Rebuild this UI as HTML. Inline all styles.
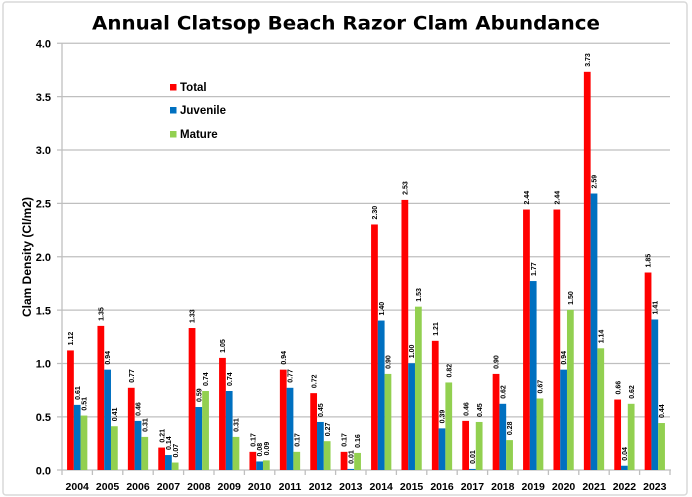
<!DOCTYPE html>
<html><head><meta charset="utf-8"><style>
html,body{margin:0;padding:0;background:#fff;}
svg{display:block;}
text{font-family:"Liberation Sans",Arial,sans-serif;font-weight:bold;fill:#000;}
.r{fill:#ff0000}.b{fill:#0070c0}.g{fill:#92d050}
.l{font-size:7px}
.yr{font-size:10.5px;text-anchor:middle}
.yt{font-size:11px;text-anchor:end}
</style></head><body>
<svg width="692" height="497" viewBox="0 0 692 497" xmlns="http://www.w3.org/2000/svg">
<rect x="3" y="2" width="684" height="493" rx="3" fill="#fff" stroke="#d9d9d9" stroke-width="1.5"/>
<text x="346" y="29.5" text-anchor="middle" style="font-family:'DejaVu Sans','Liberation Sans',sans-serif;font-size:18.5px" textLength="508" lengthAdjust="spacingAndGlyphs">Annual Clatsop Beach Razor Clam Abundance</text>
<g stroke="#bfbfbf" stroke-width="1.3">
<line x1="57" y1="43.25" x2="670" y2="43.25"/>
<line x1="57" y1="96.6" x2="670" y2="96.6"/>
<line x1="57" y1="150" x2="670" y2="150"/>
<line x1="57" y1="203.4" x2="670" y2="203.4"/>
<line x1="57" y1="256.75" x2="670" y2="256.75"/>
<line x1="57" y1="310.1" x2="670" y2="310.1"/>
<line x1="57" y1="363.5" x2="670" y2="363.5"/>
<line x1="57" y1="416.9" x2="670" y2="416.9"/>
<line x1="57" y1="470" x2="671" y2="470"/>
<line x1="62" y1="43" x2="62" y2="470"/>
<line x1="62" y1="470" x2="62" y2="475"/><line x1="92.4" y1="470" x2="92.4" y2="475"/><line x1="122.8" y1="470" x2="122.8" y2="475"/><line x1="153.2" y1="470" x2="153.2" y2="475"/><line x1="183.6" y1="470" x2="183.6" y2="475"/><line x1="214" y1="470" x2="214" y2="475"/><line x1="244.4" y1="470" x2="244.4" y2="475"/><line x1="274.8" y1="470" x2="274.8" y2="475"/><line x1="305.2" y1="470" x2="305.2" y2="475"/><line x1="335.6" y1="470" x2="335.6" y2="475"/><line x1="366" y1="470" x2="366" y2="475"/><line x1="396.4" y1="470" x2="396.4" y2="475"/><line x1="426.8" y1="470" x2="426.8" y2="475"/><line x1="457.2" y1="470" x2="457.2" y2="475"/><line x1="487.6" y1="470" x2="487.6" y2="475"/><line x1="518" y1="470" x2="518" y2="475"/><line x1="548.4" y1="470" x2="548.4" y2="475"/><line x1="578.8" y1="470" x2="578.8" y2="475"/><line x1="609.2" y1="470" x2="609.2" y2="475"/><line x1="639.6" y1="470" x2="639.6" y2="475"/><line x1="670" y1="470" x2="670" y2="475"/>
</g>
<g class="yt">
<text x="51" y="47.5">4.0</text>
<text x="51" y="100.8">3.5</text>
<text x="51" y="154.2">3.0</text>
<text x="51" y="207.6">2.5</text>
<text x="51" y="261">2.0</text>
<text x="51" y="314.3">1.5</text>
<text x="51" y="367.7">1.0</text>
<text x="51" y="421.1">0.5</text>
<text x="51" y="474.3">0.0</text>
</g>
<text transform="translate(31,257) rotate(-90)" text-anchor="middle" style="font-size:12px" textLength="120" lengthAdjust="spacingAndGlyphs">Clam Density (Cl/m2)</text>
<rect x="170" y="84" width="6.5" height="6.5" class="r"/><text x="180" y="91" style="font-size:11.5px">Total</text>
<rect x="170" y="107" width="6.5" height="6.5" class="b"/><text x="180" y="114" style="font-size:11.5px">Juvenile</text>
<rect x="170" y="131" width="6.5" height="6.5" class="g"/><text x="180" y="138" style="font-size:11.5px">Mature</text>

<g class="yr">
<text x="77.2" y="490">2004</text><text x="107.6" y="490">2005</text><text x="138" y="490">2006</text><text x="168.4" y="490">2007</text><text x="198.8" y="490">2008</text><text x="229.2" y="490">2009</text><text x="259.6" y="490">2010</text><text x="290" y="490">2011</text><text x="320.4" y="490">2012</text><text x="350.8" y="490">2013</text><text x="381.2" y="490">2014</text><text x="411.6" y="490">2015</text><text x="442" y="490">2016</text><text x="472.4" y="490">2017</text><text x="502.8" y="490">2018</text><text x="533.2" y="490">2019</text><text x="563.6" y="490">2020</text><text x="594" y="490">2021</text><text x="624.4" y="490">2022</text><text x="654.8" y="490">2023</text>
</g>

<g transform="translate(62,0)">
<rect class="r" x="5.07" y="350.44" width="6.76" height="119.56"/><rect class="b" x="11.82" y="404.88" width="6.76" height="65.12"/><rect class="g" x="18.58" y="415.56" width="6.76" height="54.44"/>
<text class="l" transform="translate(11.1,345.4) rotate(-90)">1.12</text><text class="l" transform="translate(17.8,399.9) rotate(-90)">0.61</text><text class="l" transform="translate(24.6,410.6) rotate(-90)">0.51</text>
</g>
<g transform="translate(92.4,0)">
<rect class="r" x="5.07" y="325.89" width="6.76" height="144.11"/><rect class="b" x="11.82" y="369.65" width="6.76" height="100.35"/><rect class="g" x="18.58" y="426.23" width="6.76" height="43.77"/>
<text class="l" transform="translate(11.1,320.9) rotate(-90)">1.35</text><text class="l" transform="translate(17.8,364.6) rotate(-90)">0.94</text><text class="l" transform="translate(24.6,421.2) rotate(-90)">0.41</text>
</g>
<g transform="translate(122.8,0)">
<rect class="r" x="5.07" y="387.80" width="6.76" height="82.20"/><rect class="b" x="11.82" y="420.89" width="6.76" height="49.11"/><rect class="g" x="18.58" y="436.91" width="6.76" height="33.09"/>
<text class="l" transform="translate(11.1,382.8) rotate(-90)">0.77</text><text class="l" transform="translate(17.8,415.9) rotate(-90)">0.46</text><text class="l" transform="translate(24.6,431.9) rotate(-90)">0.31</text>
</g>
<g transform="translate(153.2,0)">
<rect class="r" x="5.07" y="447.58" width="6.76" height="22.42"/><rect class="b" x="11.82" y="455.05" width="6.76" height="14.95"/><rect class="g" x="18.58" y="462.53" width="6.76" height="7.47"/>
<text class="l" transform="translate(11.1,442.6) rotate(-90)">0.21</text><text class="l" transform="translate(17.8,450) rotate(-90)">0.14</text><text class="l" transform="translate(24.6,457.5) rotate(-90)">0.07</text>
</g>
<g transform="translate(183.6,0)">
<rect class="r" x="5.07" y="328.02" width="6.76" height="141.98"/><rect class="b" x="11.82" y="407.02" width="6.76" height="62.98"/><rect class="g" x="18.58" y="391.00" width="6.76" height="79.00"/>
<text class="l" transform="translate(11.1,323) rotate(-90)">1.33</text><text class="l" transform="translate(17.8,402) rotate(-90)">0.59</text><text class="l" transform="translate(24.6,386) rotate(-90)">0.74</text>
</g>
<g transform="translate(214,0)">
<rect class="r" x="5.07" y="357.91" width="6.76" height="112.09"/><rect class="b" x="11.82" y="391.00" width="6.76" height="79.00"/><rect class="g" x="18.58" y="436.91" width="6.76" height="33.09"/>
<text class="l" transform="translate(11.1,352.9) rotate(-90)">1.05</text><text class="l" transform="translate(17.8,386) rotate(-90)">0.74</text><text class="l" transform="translate(24.6,431.9) rotate(-90)">0.31</text>
</g>
<g transform="translate(244.4,0)">
<rect class="r" x="5.07" y="451.85" width="6.76" height="18.15"/><rect class="b" x="11.82" y="461.46" width="6.76" height="8.54"/><rect class="g" x="18.58" y="460.39" width="6.76" height="9.61"/>
<text class="l" transform="translate(11.1,446.8) rotate(-90)">0.17</text><text class="l" transform="translate(17.8,456.5) rotate(-90)">0.08</text><text class="l" transform="translate(24.6,455.4) rotate(-90)">0.09</text>
</g>
<g transform="translate(274.8,0)">
<rect class="r" x="5.07" y="369.65" width="6.76" height="100.35"/><rect class="b" x="11.82" y="387.80" width="6.76" height="82.20"/><rect class="g" x="18.58" y="451.85" width="6.76" height="18.15"/>
<text class="l" transform="translate(11.1,364.6) rotate(-90)">0.94</text><text class="l" transform="translate(17.8,382.8) rotate(-90)">0.77</text><text class="l" transform="translate(24.6,446.8) rotate(-90)">0.17</text>
</g>
<g transform="translate(305.2,0)">
<rect class="r" x="5.07" y="393.14" width="6.76" height="76.86"/><rect class="b" x="11.82" y="421.96" width="6.76" height="48.04"/><rect class="g" x="18.58" y="441.18" width="6.76" height="28.82"/>
<text class="l" transform="translate(11.1,388.1) rotate(-90)">0.72</text><text class="l" transform="translate(17.8,417) rotate(-90)">0.45</text><text class="l" transform="translate(24.6,436.2) rotate(-90)">0.27</text>
</g>
<g transform="translate(335.6,0)">
<rect class="r" x="5.07" y="451.85" width="6.76" height="18.15"/><rect class="b" x="11.82" y="468.93" width="6.76" height="1.07"/><rect class="g" x="18.58" y="452.92" width="6.76" height="17.08"/>
<text class="l" transform="translate(11.1,446.8) rotate(-90)">0.17</text><text class="l" transform="translate(17.8,463.9) rotate(-90)">0.01</text><text class="l" transform="translate(24.6,447.9) rotate(-90)">0.16</text>
</g>
<g transform="translate(366,0)">
<rect class="r" x="5.07" y="224.47" width="6.76" height="245.53"/><rect class="b" x="11.82" y="320.55" width="6.76" height="149.45"/><rect class="g" x="18.58" y="373.92" width="6.76" height="96.08"/>
<text class="l" transform="translate(11.1,219.5) rotate(-90)">2.30</text><text class="l" transform="translate(17.8,315.5) rotate(-90)">1.40</text><text class="l" transform="translate(24.6,368.9) rotate(-90)">0.90</text>
</g>
<g transform="translate(396.4,0)">
<rect class="r" x="5.07" y="199.92" width="6.76" height="270.08"/><rect class="b" x="11.82" y="363.25" width="6.76" height="106.75"/><rect class="g" x="18.58" y="306.67" width="6.76" height="163.33"/>
<text class="l" transform="translate(11.1,194.9) rotate(-90)">2.53</text><text class="l" transform="translate(17.8,358.2) rotate(-90)">1.00</text><text class="l" transform="translate(24.6,301.7) rotate(-90)">1.53</text>
</g>
<g transform="translate(426.8,0)">
<rect class="r" x="5.07" y="340.83" width="6.76" height="129.17"/><rect class="b" x="11.82" y="428.37" width="6.76" height="41.63"/><rect class="g" x="18.58" y="382.46" width="6.76" height="87.54"/>
<text class="l" transform="translate(11.1,335.8) rotate(-90)">1.21</text><text class="l" transform="translate(17.8,423.4) rotate(-90)">0.39</text><text class="l" transform="translate(24.6,377.5) rotate(-90)">0.82</text>
</g>
<g transform="translate(457.2,0)">
<rect class="r" x="5.07" y="420.89" width="6.76" height="49.11"/><rect class="b" x="11.82" y="468.93" width="6.76" height="1.07"/><rect class="g" x="18.58" y="421.96" width="6.76" height="48.04"/>
<text class="l" transform="translate(11.1,415.9) rotate(-90)">0.46</text><text class="l" transform="translate(17.8,463.9) rotate(-90)">0.01</text><text class="l" transform="translate(24.6,417) rotate(-90)">0.45</text>
</g>
<g transform="translate(487.6,0)">
<rect class="r" x="5.07" y="373.92" width="6.76" height="96.08"/><rect class="b" x="11.82" y="403.81" width="6.76" height="66.19"/><rect class="g" x="18.58" y="440.11" width="6.76" height="29.89"/>
<text class="l" transform="translate(11.1,368.9) rotate(-90)">0.90</text><text class="l" transform="translate(17.8,398.8) rotate(-90)">0.62</text><text class="l" transform="translate(24.6,435.1) rotate(-90)">0.28</text>
</g>
<g transform="translate(518,0)">
<rect class="r" x="5.07" y="209.53" width="6.76" height="260.47"/><rect class="b" x="11.82" y="281.05" width="6.76" height="188.95"/><rect class="g" x="18.58" y="398.48" width="6.76" height="71.52"/>
<text class="l" transform="translate(11.1,204.5) rotate(-90)">2.44</text><text class="l" transform="translate(17.8,276) rotate(-90)">1.77</text><text class="l" transform="translate(24.6,393.5) rotate(-90)">0.67</text>
</g>
<g transform="translate(548.4,0)">
<rect class="r" x="5.07" y="209.53" width="6.76" height="260.47"/><rect class="b" x="11.82" y="369.65" width="6.76" height="100.35"/><rect class="g" x="18.58" y="309.87" width="6.76" height="160.13"/>
<text class="l" transform="translate(11.1,204.5) rotate(-90)">2.44</text><text class="l" transform="translate(17.8,364.6) rotate(-90)">0.94</text><text class="l" transform="translate(24.6,304.9) rotate(-90)">1.50</text>
</g>
<g transform="translate(578.8,0)">
<rect class="r" x="5.07" y="71.82" width="6.76" height="398.18"/><rect class="b" x="11.82" y="193.52" width="6.76" height="276.48"/><rect class="g" x="18.58" y="348.30" width="6.76" height="121.70"/>
<text class="l" transform="translate(11.1,66.8) rotate(-90)">3.73</text><text class="l" transform="translate(17.8,188.5) rotate(-90)">2.59</text><text class="l" transform="translate(24.6,343.3) rotate(-90)">1.14</text>
</g>
<g transform="translate(609.2,0)">
<rect class="r" x="5.07" y="399.54" width="6.76" height="70.46"/><rect class="b" x="11.82" y="465.73" width="6.76" height="4.27"/><rect class="g" x="18.58" y="403.81" width="6.76" height="66.19"/>
<text class="l" transform="translate(11.1,394.5) rotate(-90)">0.66</text><text class="l" transform="translate(17.8,460.7) rotate(-90)">0.04</text><text class="l" transform="translate(24.6,398.8) rotate(-90)">0.62</text>
</g>
<g transform="translate(639.6,0)">
<rect class="r" x="5.07" y="272.51" width="6.76" height="197.49"/><rect class="b" x="11.82" y="319.48" width="6.76" height="150.52"/><rect class="g" x="18.58" y="423.03" width="6.76" height="46.97"/>
<text class="l" transform="translate(11.1,267.5) rotate(-90)">1.85</text><text class="l" transform="translate(17.8,314.5) rotate(-90)">1.41</text><text class="l" transform="translate(24.6,418) rotate(-90)">0.44</text>
</g>
</svg>
</body></html>
